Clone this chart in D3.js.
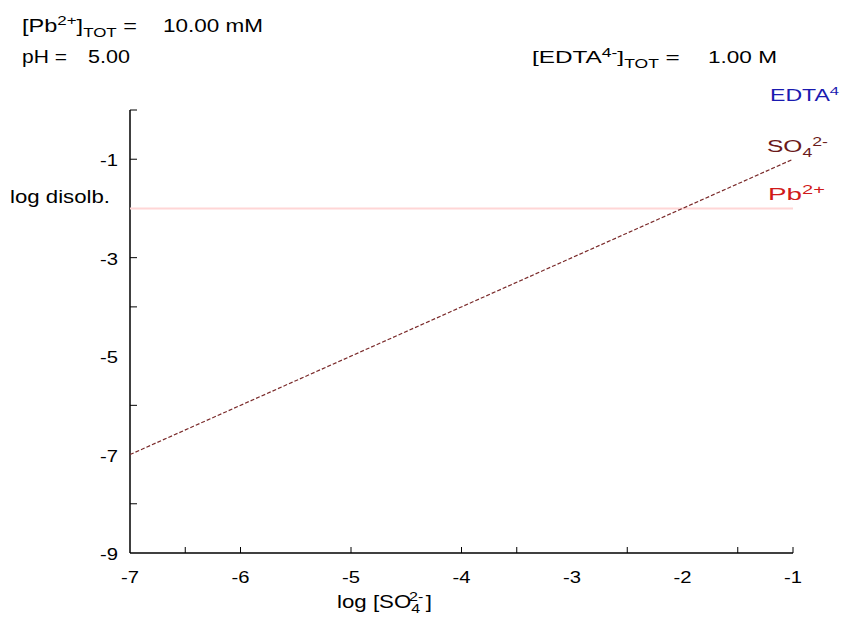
<!DOCTYPE html>
<html><head><meta charset="utf-8">
<script src="https://cdn.jsdelivr.net/npm/d3@7"></script>
<style>body{margin:0;background:#fff;} text{font-family:"Liberation Sans",Arial,sans-serif;}</style>
</head><body>
<svg id="c" width="841" height="617"></svg>
<script>
const xDomain = [-7, -1];
const yDomain = [-9, 0];
const xTickLabels = [-7, -6, -5, -4, -3, -2, -1];
const xTickMarks = [-6.5, -6, -5, -4, -3.5, -2.5, -1.5, -1];
const yTickLabels = [-1, -3, -5, -7, -9];
const yTickMarks = [0, -1, -3, -4, -6, -8];
const so4X = [-7, -1];
const so4Y = [-7, -1];
const pbX = [-7, -1];
const pbY = [-2, -2];

const svg = d3.select("#c");
const x = d3.scaleLinear().domain(xDomain).range([130, 793]);
const y = d3.scaleLinear().domain(yDomain).range([553, 110]);

// text helper: builds text from parts, stretches horizontally to the target width
function label(px, py, parts, width, size, color, anchor) {
  const g = svg.append("g");
  const t = g.append("text").attr("font-size", size).attr("fill", color || "#000");
  let cur = 0;
  parts.forEach(p => {
    const [s, k, dx] = p;
    const off = k === "sup" ? -0.38 * size : k === "sub" ? 0.3 * size : 0;
    const ts = t.append("tspan").attr("dy", off - cur)
      .attr("font-size", k === "n" ? size : size * 0.72).text(s);
    if (dx) ts.attr("dx", dx);
    cur = off;
  });
  const bb = t.node().getBBox();
  const sx = width / bb.width;
  const tx = anchor === "end" ? px - width : anchor === "middle" ? px - width / 2 : px;
  g.attr("transform", `translate(${tx - bb.x * sx},${py}) scale(${sx},1)`);
  return g;
}

// Axes lines
svg.append("line").attr("x1",130).attr("x2",130).attr("y1",y(0)).attr("y2",y(-9)).attr("stroke","#000").attr("stroke-width",1.5);
svg.append("line").attr("x1",x(-7)).attr("x2",x(-1)).attr("y1",553).attr("y2",553).attr("stroke","#000").attr("stroke-width",1.5);

// tick marks
svg.selectAll(".xt").data(xTickMarks).enter().append("line")
  .attr("x1",d=>x(d)).attr("x2",d=>x(d)).attr("y1",553).attr("y2",547).attr("stroke","#000");
svg.selectAll(".yt").data(yTickMarks).enter().append("line")
  .attr("x1",130).attr("x2",137).attr("y1",d=>y(d)).attr("y2",d=>y(d)).attr("stroke","#000");

// tick labels
xTickLabels.forEach(d => label(x(d), 583, [["-" + Math.abs(d), "n"]], 18, 17, "#000", "middle"));
yTickLabels.forEach(d => label(118, y(d) + 7, [["-" + Math.abs(d), "n"]], 18, 17, "#000", "end"));

// series
const line = d3.line().x(d=>x(d[0])).y(d=>y(d[1]));
svg.append("path").datum(pbX.map((v,i)=>[v,pbY[i]])).attr("d",line)
  .attr("fill","none").attr("stroke","#ffd6d6").attr("stroke-width",2);
svg.append("path").datum(so4X.map((v,i)=>[v,so4Y[i]])).attr("d",line)
  .attr("fill","none").attr("stroke","#7a2a2a").attr("stroke-width",1.2).attr("stroke-dasharray","4,2");

// axis titles
label(10, 203, [["log disolb.", "n"]], 100, 18, "#000");
label(337, 608, [["log [SO", "n"], ["4", "sub"], ["2-", "sup", -9], ["]", "n", 2]], 95, 18, "#000");

// header texts
label(22, 32, [["[Pb", "n"], ["2+", "sup"], ["]", "n"], ["TOT", "sub"], [" =", "n"]], 115, 18, "#000");
label(163, 32, [["10.00 mM", "n"]], 100, 18, "#000");
label(22, 63, [["pH =", "n"]], 45, 18, "#000");
label(88, 63, [["5.00", "n"]], 42, 18, "#000");
label(532, 63, [["[EDTA", "n"], ["4-", "sup"], ["]", "n"], ["TOT", "sub"], [" =", "n"]], 148, 17, "#000");
label(708, 63, [["1.00 M", "n"]], 69, 17, "#000");

// series labels
label(770, 101, [["EDTA", "n"], ["4", "sup"]], 70, 16, "#1a1ab0");
label(767, 152, [["SO", "n"], ["4", "sub"], ["2-", "sup"]], 61, 17, "#6b1a1a");
label(768, 200, [["Pb", "n"], ["2+", "sup"]], 57, 17, "#d01a1a");
</script>
</body></html>
